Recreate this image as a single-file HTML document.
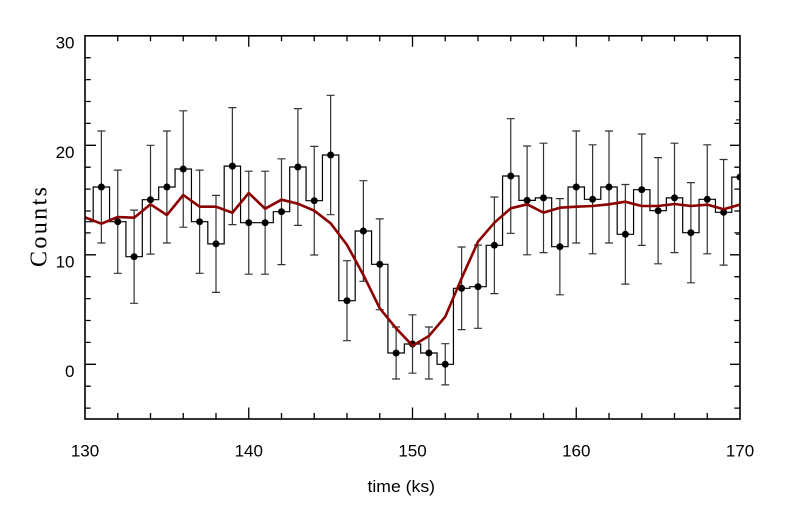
<!DOCTYPE html>
<html><head><meta charset="utf-8"><style>
html,body{margin:0;padding:0;background:#fff;}
svg{display:block;}
</style></head><body>
<svg width="796" height="509" viewBox="0 0 796 509" xmlns="http://www.w3.org/2000/svg">
<defs><clipPath id="pc"><rect x="85" y="35.8" width="655" height="383.2"/></clipPath></defs>
<rect width="796" height="509" fill="#fff"/>
<g clip-path="url(#pc)">
<path fill="none" stroke="#000" stroke-width="1.2" d="M85,221.7 H93.19 V187 H109.56 V221.7 H125.94 V256.7 H142.31 V199.7 H158.69 V187 H175.06 V169 H191.44 V221.7 H207.81 V243.9 H224.19 V166.1 H240.56 V222.7 H273.31 V211.7 H289.69 V167 H306.06 V200.7 H322.44 V155 H338.81 V300.7 H355.19 V231 H371.56 V264.3 H387.94 V353 H404.31 V344 H420.69 V353 H437.06 V364.3 H453.44 V288.3 H469.81 V286.7 H486.19 V245.3 H502.56 V176 H518.94 V200.4 H535.31 V197.9 H551.69 V246.7 H568.06 V187 H584.44 V199.3 H600.81 V187 H617.19 V234.3 H633.56 V189.7 H649.94 V210.7 H666.31 V197.9 H682.69 V232.7 H699.06 V199.3 H715.44 V212.3 H731.81 V177.1 H740"/>
<path fill="none" stroke="#333" stroke-width="1.2" d="
M101.375,131 V243 M97.4,131 h8 M97.4,243 h8
M117.75,170.1 V273.3 M113.75,170.1 h8 M113.75,273.3 h8
M134.125,210.1 V303.3 M130.1,210.1 h8 M130.1,303.3 h8
M150.5,145.3 V254.1 M146.5,145.3 h8 M146.5,254.1 h8
M166.875,131 V243 M162.9,131 h8 M162.9,243 h8
M183.25,110.8 V227.2 M179.25,110.8 h8 M179.25,227.2 h8
M199.625,170.1 V273.3 M195.6,170.1 h8 M195.6,273.3 h8
M216,195.4 V292.4 M212,195.4 h8 M212,292.4 h8
M232.375,107.6 V224.6 M228.4,107.6 h8 M228.4,224.6 h8
M248.75,171.2 V274.2 M244.75,171.2 h8 M244.75,274.2 h8
M265.125,171.2 V274.2 M261.1,171.2 h8 M261.1,274.2 h8
M281.5,158.8 V264.6 M277.5,158.8 h8 M277.5,264.6 h8
M297.875,108.6 V225.4 M293.9,108.6 h8 M293.9,225.4 h8
M314.25,146.4 V255 M310.25,146.4 h8 M310.25,255 h8
M330.625,95.3 V214.7 M326.6,95.3 h8 M326.6,214.7 h8
M347,260.7 V340.7 M343,260.7 h8 M343,340.7 h8
M363.375,180.7 V281.3 M359.4,180.7 h8 M359.4,281.3 h8
M379.75,218.9 V309.7 M375.75,218.9 h8 M375.75,309.7 h8
M396.125,327 V379 M392.1,327 h8 M392.1,379 h8
M412.5,314.8 V373.2 M408.5,314.8 h8 M408.5,373.2 h8
M428.875,327 V379 M424.9,327 h8 M424.9,379 h8
M445.25,343.7 V384.9 M441.25,343.7 h8 M441.25,384.9 h8
M461.625,247 V329.6 M457.6,247 h8 M457.6,329.6 h8
M478,245.1 V328.3 M474,245.1 h8 M474,328.3 h8
M494.375,197 V293.6 M490.4,197 h8 M490.4,293.6 h8
M510.75,118.7 V233.3 M506.75,118.7 h8 M506.75,233.3 h8
M527.125,146 V254.8 M523.1,146 h8 M523.1,254.8 h8
M543.5,143.2 V252.6 M539.5,143.2 h8 M539.5,252.6 h8
M559.875,198.6 V294.8 M555.9,198.6 h8 M555.9,294.8 h8
M576.25,131 V243 M572.25,131 h8 M572.25,243 h8
M592.625,144.8 V253.8 M588.6,144.8 h8 M588.6,253.8 h8
M609,131 V243 M605,131 h8 M605,243 h8
M625.375,184.5 V284.1 M621.4,184.5 h8 M621.4,284.1 h8
M641.75,134 V245.4 M637.75,134 h8 M637.75,245.4 h8
M658.125,157.6 V263.8 M654.1,157.6 h8 M654.1,263.8 h8
M674.5,143.2 V252.6 M670.5,143.2 h8 M670.5,252.6 h8
M690.875,182.6 V282.8 M686.9,182.6 h8 M686.9,282.8 h8
M707.25,144.8 V253.8 M703.25,144.8 h8 M703.25,253.8 h8
M723.625,159.5 V265.1 M719.6,159.5 h8 M719.6,265.1 h8
M740,119.9 V234.3 M736,119.9 h8 M736,234.3 h8
"/>
<g fill="#000">
<circle cx="101.375" cy="187" r="3.5"/><circle cx="117.75" cy="221.7" r="3.5"/><circle cx="134.125" cy="256.7" r="3.5"/><circle cx="150.5" cy="199.7" r="3.5"/><circle cx="166.875" cy="187" r="3.5"/><circle cx="183.25" cy="169" r="3.5"/><circle cx="199.625" cy="221.7" r="3.5"/><circle cx="216" cy="243.9" r="3.5"/><circle cx="232.375" cy="166.1" r="3.5"/><circle cx="248.75" cy="222.7" r="3.5"/><circle cx="265.125" cy="222.7" r="3.5"/><circle cx="281.5" cy="211.7" r="3.5"/><circle cx="297.875" cy="167" r="3.5"/><circle cx="314.25" cy="200.7" r="3.5"/><circle cx="330.625" cy="155" r="3.5"/><circle cx="347" cy="300.7" r="3.5"/><circle cx="363.375" cy="231" r="3.5"/><circle cx="379.75" cy="264.3" r="3.5"/><circle cx="396.125" cy="353" r="3.5"/><circle cx="412.5" cy="344" r="3.5"/><circle cx="428.875" cy="353" r="3.5"/><circle cx="445.25" cy="364.3" r="3.5"/><circle cx="461.625" cy="288.3" r="3.5"/><circle cx="478" cy="286.7" r="3.5"/><circle cx="494.375" cy="245.3" r="3.5"/><circle cx="510.75" cy="176" r="3.5"/><circle cx="527.125" cy="200.4" r="3.5"/><circle cx="543.5" cy="197.9" r="3.5"/><circle cx="559.875" cy="246.7" r="3.5"/><circle cx="576.25" cy="187" r="3.5"/><circle cx="592.625" cy="199.3" r="3.5"/><circle cx="609" cy="187" r="3.5"/><circle cx="625.375" cy="234.3" r="3.5"/><circle cx="641.75" cy="189.7" r="3.5"/><circle cx="658.125" cy="210.7" r="3.5"/><circle cx="674.5" cy="197.9" r="3.5"/><circle cx="690.875" cy="232.7" r="3.5"/><circle cx="707.25" cy="199.3" r="3.5"/><circle cx="723.625" cy="212.3" r="3.5"/><circle cx="740" cy="177.1" r="3.5"/>
</g>
<polyline fill="none" stroke="#8b0000" stroke-width="2.6" stroke-linejoin="round" points="85,217.35 101.375,223.7 117.75,217 134.125,217.7 150.5,204.3 166.875,215.05 183.25,195 199.625,206.7 216,206.7 232.375,212.75 248.75,193 265.125,208.7 281.5,199.7 297.875,203.7 314.25,210.7 330.625,223.3 347,244.9 363.375,274.95 379.75,308.35 396.125,328.3 412.5,345.7 428.875,336.05 445.25,316.7 461.625,278.3 478,241.7 494.375,222.7 510.75,208.3 527.125,204.3 543.5,212.6 559.875,207.7 576.25,206.7 592.625,206 609,204.3 625.375,201.7 641.75,206 658.125,206 674.5,204 690.875,206 707.25,204.65 723.625,209.25 740,204.65"/>
</g>
<path fill="none" stroke="#000" stroke-width="1.3" d="
M117.75,419 v-6 M150.5,419 v-6 M183.25,419 v-6 M216,419 v-6 M248.75,419 v-11.5 M281.5,419 v-6 M314.25,419 v-6 M347,419 v-6 M379.75,419 v-6 M412.5,419 v-11.5 M445.25,419 v-6 M478,419 v-6 M510.75,419 v-6 M543.5,419 v-6 M576.25,419 v-11.5 M609,419 v-6 M641.75,419 v-6 M674.5,419 v-6 M707.25,419 v-6
M117.75,35.8 v5.5 M150.5,35.8 v5.5 M183.25,35.8 v5.5 M216,35.8 v5.5 M248.75,35.8 v11 M281.5,35.8 v5.5 M314.25,35.8 v5.5 M347,35.8 v5.5 M379.75,35.8 v5.5 M412.5,35.8 v11 M445.25,35.8 v5.5 M478,35.8 v5.5 M510.75,35.8 v5.5 M543.5,35.8 v5.5 M576.25,35.8 v11 M609,35.8 v5.5 M641.75,35.8 v5.5 M674.5,35.8 v5.5 M707.25,35.8 v5.5
M85,408.1 h5.7 M85,386.2 h5.7 M85,364.3 h11 M85,342.4 h5.7 M85,320.5 h5.7 M85,298.6 h5.7 M85,276.7 h5.7 M85,254.8 h11 M85,232.9 h5.7 M85,211 h5.7 M85,189.1 h5.7 M85,167.2 h5.7 M85,145.3 h11 M85,123.4 h5.7 M85,101.5 h5.7 M85,79.6 h5.7 M85,57.7 h5.7
M740,408.1 h-5.7 M740,386.2 h-5.7 M740,364.3 h-10 M740,342.4 h-5.7 M740,320.5 h-5.7 M740,298.6 h-5.7 M740,276.7 h-5.7 M740,254.8 h-10 M740,232.9 h-5.7 M740,211 h-5.7 M740,189.1 h-5.7 M740,167.2 h-5.7 M740,145.3 h-10 M740,123.4 h-5.7 M740,101.5 h-5.7 M740,79.6 h-5.7 M740,57.7 h-5.7
"/>
<rect x="85" y="35.8" width="655" height="383.2" fill="none" stroke="#000" stroke-width="1.6"/>
<g font-family="Liberation Sans, Arial, sans-serif" font-size="17" fill="#000">
<text x="74.5" y="48.5" text-anchor="end">30</text>
<text x="74.5" y="157.8" text-anchor="end">20</text>
<text x="74.5" y="267.3" text-anchor="end">10</text>
<text x="74.5" y="376.8" text-anchor="end">0</text>
<text x="85" y="456.7" text-anchor="middle">130</text>
<text x="248.75" y="456.7" text-anchor="middle">140</text>
<text x="412.5" y="456.7" text-anchor="middle">150</text>
<text x="576.25" y="456.7" text-anchor="middle">160</text>
<text x="740" y="456.7" text-anchor="middle">170</text>
<text x="367.5" y="492" textLength="67.5" lengthAdjust="spacingAndGlyphs">time (ks)</text>
</g>
<text transform="translate(46.7,227) rotate(-90)" text-anchor="middle" font-family="Liberation Serif, serif" font-size="24" textLength="80" lengthAdjust="spacing" fill="#000">Counts</text>
</svg>
</body></html>
